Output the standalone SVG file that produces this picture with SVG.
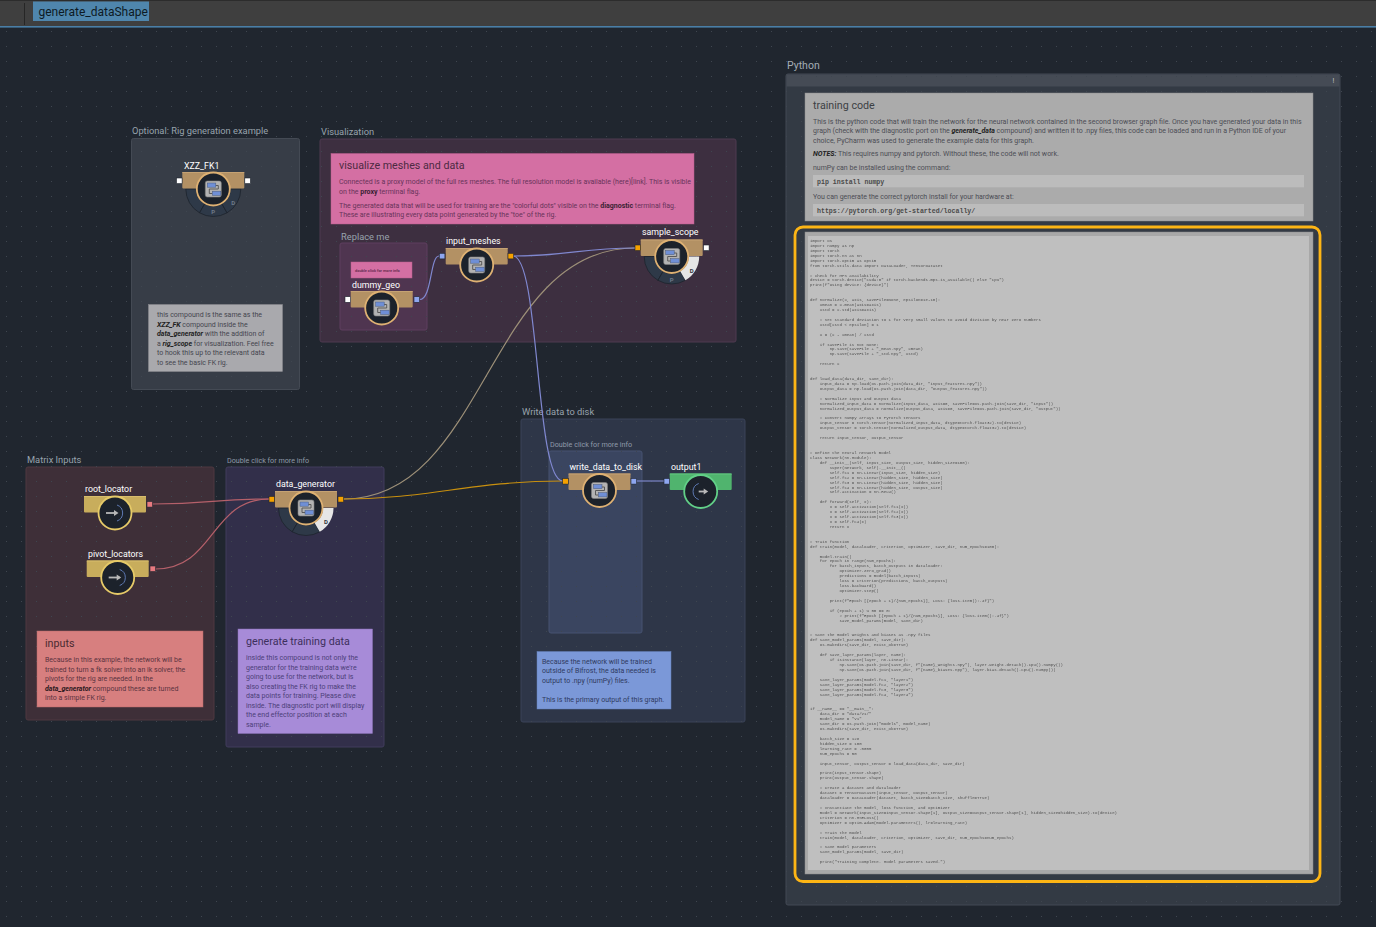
<svg xmlns="http://www.w3.org/2000/svg" width="1376" height="927" viewBox="0 0 1376 927">
<style>
text{font-family:Roboto,"Liberation Sans",sans-serif}
.box{stroke-width:1}
.gt{font-size:9.300px;fill:#98a3ad}
.gs{font-size:7.200px;fill:#8f9aa8}
.lbl{font-size:8.800px;fill:#fff}
.nt{font-size:10.700px}
.n7{font-size:7px}
.port{stroke:#20262f;stroke-width:.6}
.wire{fill:none;stroke-width:1.2}
.ring{fill:#2e3948;stroke:#1d232c;stroke-width:.8}
.rl{font-size:6px;font-weight:700;text-anchor:middle;fill:#6f7a88}
.code text{font-family:"Liberation Mono",monospace;font-size:4.100px;fill:#505050;white-space:pre}
.cb{font-family:"Liberation Mono",monospace;font-size:6.600px;font-weight:700;fill:#4a4a4a}
</style>
<defs>
<filter id="soft" x="0" y="0" width="100%" height="100%"><feGaussianBlur stdDeviation=".22"/></filter>
<pattern id="dots" x="6" y="1" width="15" height="15" patternUnits="userSpaceOnUse"><rect width="1" height="1" fill="#3f4650"/></pattern>
<g id="cicon">
<rect x="-8" y="-8" width="16" height="16" rx="2" fill="#b3b3b3" stroke="#7f7f7f" stroke-width=".6"/>
<path d="M2,-3.500H5V0H-4V4.500H-1" fill="none" stroke="#5a5a5a" stroke-width="1"/>
<rect x="-6" y="-6" width="8.500" height="4.200" fill="#6f8fd6" stroke="#4a5a7a" stroke-width=".5"/>
<rect x="-1" y="2.200" width="8.500" height="4.200" fill="#6f8fd6" stroke="#4a5a7a" stroke-width=".5"/>
</g>
<g id="cnode">
<rect x="-31" y="-17" width="62" height="16.500" rx="1" fill="#b39164"/>
<rect x="-31" y="-17" width="62" height="1" fill="#c5a273"/>
<circle r="16.500" fill="#1c222b" stroke="#deb173" stroke-width="1.800"/>
<use href="#cicon"/>
</g>
<g id="inode">
<rect x="-31" y="-17" width="62" height="16.500" rx="1" fill="#c8ad5c"/>
<rect x="-31" y="-17" width="62" height="1" fill="#d8bd6c"/>
<circle r="16.500" fill="#1c222b" stroke="#e6ca68" stroke-width="1.800"/>
<path d="M2,-8A8.500,8.500 0 0 1 2,8" fill="none" stroke="#6f8fd6" stroke-width=".8"/>
<path d="M-9,0H2" fill="none" stroke="#b8b8b8" stroke-width="1.800"/>
<path d="M-1,-3L3.500,0L-1,3Z" fill="#b8b8b8"/>
</g>
<g id="onode">
<rect x="-31" y="-18" width="62" height="16.500" rx="1" fill="#50b46e"/>
<rect x="-31" y="-18" width="62" height="1" fill="#62c680"/>
<circle r="16.500" fill="#1c222b" stroke="#62d088" stroke-width="1.800"/>
<path d="M-2,-8A8.500,8.500 0 0 0 -2,8" fill="none" stroke="#6f8fd6" stroke-width=".8"/>
<path d="M-2,0H5" fill="none" stroke="#b8b8b8" stroke-width="1.800"/>
<path d="M3,-3L7.500,0L3,3Z" fill="#b8b8b8"/>
</g>
<g id="ringbase">
<path class="ring" d="M-27.500,0A27.500,27.500 0 0 0 -13.750,23.800L-8.500,14.700A17,17 0 0 1 -17,0Z"/>
<path class="ring" d="M-13.750,23.800A27.500,27.500 0 0 0 13.750,23.800L8.500,14.700A17,17 0 0 1 -8.500,14.700Z"/>
</g>
<g id="ringd"><path class="ring" d="M27.500,0A27.500,27.500 0 0 1 13.750,23.800L8.500,14.700A17,17 0 0 0 17,0Z"/><text class="rl" x="20" y="16">D</text></g>
<g id="ringdon"><path d="M27.500,0A27.500,27.500 0 0 1 13.750,23.800L8.500,14.700A17,17 0 0 0 17,0Z" fill="#e6e6e6"/><text class="rl" x="20" y="16" style="fill:#30343a">D</text></g>
</defs>

<rect width="1376" height="927" fill="#20262f"/>
<g id="topbar">
<rect width="1376" height="26" fill="#3f3f3f"/>
<rect width="1376" height="1" fill="#2c2c2c"/>
<rect y="26" width="1376" height="1.600" fill="#4a7ea6"/>
<rect x="24" y="3" width="1" height="22" fill="#262626"/>
<rect x="33" y="1.500" width="116" height="19.500" fill="#4f86ad"/>
<text x="38.500" y="16" font-size="12" fill="#0d1a24">generate_dataShape</text>
</g>

<g id="group-optional"><rect class="box" x="131.500" y="138.500" width="168" height="251" rx="2" fill="#373d47" stroke="#444a54"/><text class="gt" x="132" y="134">Optional:  Rig generation example</text></g>
<g id="group-visualization"><rect class="box" x="320" y="139" width="416" height="203" rx="2" fill="#3d2f40" stroke="#4e3a50"/><text class="gt" x="321" y="135">Visualization</text></g>
<g id="group-replace"><rect class="box" x="340" y="243" width="87" height="87" rx="2" fill="#4f3550" stroke="#5f3f5f"/><text class="gt" x="341" y="240">Replace me</text></g>
<g id="group-matrix"><rect class="box" x="26" y="467" width="188" height="253" rx="2" fill="#3e2f38" stroke="#4e3840"/><text class="gt" x="27" y="463">Matrix Inputs</text></g>
<g id="group-generator"><rect class="box" x="226" y="467" width="158" height="280" rx="2" fill="#322f4a" stroke="#403c5c"/><text class="gs" x="227" y="463">Double click for more info</text></g>
<g id="group-write"><rect class="box" x="521" y="419" width="224" height="303" rx="2" fill="#2e3648" stroke="#3a4358"/><text class="gt" x="522" y="415">Write data to disk</text></g>
<g id="group-write-inner"><rect class="box" x="549" y="451" width="93" height="182" rx="2" fill="#3a4560" stroke="#465270"/><text class="gs" x="550" y="447">Double click for more info</text></g>
<g id="group-python"><rect class="box" x="786" y="74" width="554" height="831" rx="2" fill="#333a44" stroke="#424954"/><rect x="786.500" y="74.500" width="553" height="12" fill="#454b55"/><text x="787" y="69" font-size="10.500" fill="#a4adb5">Python</text><text x="1332.500" y="83" font-size="7" fill="#c8c8c8">!</text></g>

<rect width="1376" height="899" y="28" fill="url(#dots)"/>

<g id="connectors">
<path class="wire" stroke="#b5606a" d="M152.700,504C210,504 215,499 269,499"/>
<path class="wire" stroke="#b5606a" d="M155.500,569C215,569 210,499 269,499"/>
<path class="wire" stroke="#9d9078" d="M343.500,499C487,499 487,248 635,248"/>
<path class="wire" stroke="#c8900f" d="M343.500,499C430,499 470,481 562.700,481"/>
<path class="wire" stroke="#8088d0" d="M419.700,299.500C432,299.500 430,256 439,256"/>
<path class="wire" stroke="#8088d0" d="M513,256C570,256 580,248 635,248"/>
<path class="wire" stroke="#8088d0" d="M513,256C540,256 535,481 562.700,481"/>
<path class="wire" stroke="#7c86c8" d="M636.500,481H664"/>
</g>

<g id="note-optional"><rect x="148.500" y="304.500" width="134" height="67" fill="#a9a9ad" stroke="#8c8c90" stroke-width=".5"/>
<g class="n7" fill="#45464f">
<text x="157" y="317">this compound is the same as the</text>
<text x="157" y="326.700"><tspan font-weight="700" font-style="italic" fill="#222">XZZ_FK</tspan> compound inside the</text>
<text x="157" y="336.200"><tspan font-weight="700" font-style="italic" fill="#222">data_generator</tspan> with the addition of</text>
<text x="157" y="345.800">a <tspan font-weight="700" font-style="italic" fill="#222">rig_scope</tspan> for visualization. Feel free</text>
<text x="157" y="355.300">to hook this up to the relevant data</text>
<text x="157" y="365">to see the basic FK rig.</text>
</g></g>
<g id="note-visualize"><rect x="331" y="153.500" width="363" height="70.500" fill="#d46fa3" stroke="#b85f8c" stroke-width=".5"/>
<text class="nt" x="339" y="169" fill="#4d2a42">visualize meshes and data</text>
<g class="n7" fill="#68345a">
<text x="339" y="183.700">Connected is a proxy model of the full res meshes. The full resolution model is available (here)[link]. This is visible</text>
<text x="339" y="193.700">on the <tspan font-weight="700" fill="#3a1f33">proxy</tspan> terminal flag.</text>
<text x="339" y="207.700">The generated data that will be used for training are the "colorful dots" visible on the <tspan font-weight="700" fill="#3a1f33">diagnostic</tspan> terminal flag.</text>
<text x="339" y="217">These are illustrating every data point generated by the "toe" of the rig.</text>
</g></g>
<g id="note-dummy"><rect x="351" y="262" width="61" height="16" fill="#d46fa3" stroke="#b85f8c" stroke-width=".5"/><text x="355" y="271.500" font-size="3.900" fill="#6b2f55" font-weight="700">double click for more info</text></g>
<g id="note-inputs"><rect x="37" y="631" width="166" height="76" fill="#d77f7f" stroke="#b96a6a" stroke-width=".5"/>
<text class="nt" x="45" y="647" fill="#4a2a30">inputs</text>
<g class="n7" fill="#5a3340">
<text x="45" y="662">Because in this example, the network will be</text>
<text x="45" y="671.500">trained to turn a fk solver into an ik solver, the</text>
<text x="45" y="681">pivots for the rig are needed. In the</text>
<text x="45" y="690.700"><tspan font-weight="700" font-style="italic" fill="#2a1820">data_generator</tspan> compound these are turned</text>
<text x="45" y="700">into a simple FK rig.</text>
</g></g>
<g id="note-generate"><rect x="238" y="629" width="134.500" height="104.500" fill="#a78bd8" stroke="#8a72b8" stroke-width=".5"/>
<text class="nt" x="246" y="645" fill="#3d2f5c">generate training data</text>
<g class="n7" fill="#4d3f78">
<text x="246" y="660">inside this compound is not only the</text>
<text x="246" y="669.600">generator for the training data we're</text>
<text x="246" y="679">going to use for the network, but is</text>
<text x="246" y="688.600">also creating the FK rig to make the</text>
<text x="246" y="698">data points for training. Please dive</text>
<text x="246" y="707.500">inside. The diagnostic port will display</text>
<text x="246" y="717">the end effector position at each</text>
<text x="246" y="726.500">sample.</text>
</g></g>
<g id="note-write"><rect x="537" y="651.500" width="134" height="57.500" fill="#7b98d8" stroke="#6580b8" stroke-width=".5"/>
<g class="n7" fill="#2f3a60">
<text x="542" y="663.700">Because the network will be trained</text>
<text x="542" y="673.300">outside of Bifrost, the data needed is</text>
<text x="542" y="683">output to .npy (numPy) files.</text>
<text x="542" y="702.300">This is the primary output of this graph.</text>
</g></g>
<g id="note-training"><rect x="805" y="93" width="508" height="128" fill="#ababab" stroke="#8d8d8d" stroke-width=".5"/>
<text class="nt" x="813" y="109" fill="#3c3f44">training code</text>
<g class="n7" fill="#4b4d55">
<text x="813" y="124">This is the python code that will train the network for the neural network contained in the second browser graph file. Once you have generated your data in this</text>
<text x="813" y="133">graph (check with the diagnostic port on the <tspan font-weight="700" font-style="italic" fill="#222">generate_data</tspan> compound) and written it to .npy files, this code can be loaded and run in a Python IDE of your</text>
<text x="813" y="142.500">choice, PyCharm was used to generate the example data for this graph.</text>
<text x="813" y="156"><tspan font-weight="700" font-style="italic" fill="#222">NOTES:</tspan> This requires numpy and pytorch. Without these, the code will not work.</text>
<text x="813" y="170">numPy can be installed using the command:</text>
<text x="813" y="199">You can generate the correct pytorch install for your hardware at:</text>
</g>
<rect x="813" y="175" width="491" height="12.300" fill="#bcbcbc"/>
<text class="cb" x="817" y="183.500">pip install numpy</text>
<rect x="813" y="204" width="491" height="12.300" fill="#bcbcbc"/>
<text class="cb" x="817" y="212.500">https://pytorch.org/get-started/locally/</text>
</g>
<g id="note-code">
<rect x="805" y="232" width="508" height="642" fill="#a8a8a8" stroke="#8a8a8a" stroke-width=".5"/>
<rect x="808" y="236" width="501" height="634" fill="#bfbfbf"/>
<g class="code" xml:space="preserve" filter="url(#soft)">
<text x="810" y="242">import os</text>
<text x="810" y="246.930">import numpy as np</text>
<text x="810" y="251.860">import torch</text>
<text x="810" y="256.790">import torch.nn as nn</text>
<text x="810" y="261.720">import torch.optim as optim</text>
<text x="810" y="266.650">from torch.utils.data import DataLoader, TensorDataset</text>
<text x="810" y="276.510"># Check for MPS availability</text>
<text x="810" y="281.440">device = torch.device("cuda:0" if torch.backends.mps.is_available() else "cpu")</text>
<text x="810" y="286.370">print(f"Using device: {device}")</text>
<text x="810" y="301.160">def normalize(X, axis, saveFile=None, epsilon=1e-10):</text>
<text x="810" y="306.090">    Xmean = X.mean(axis=axis)</text>
<text x="810" y="311.020">    Xstd = X.std(axis=axis)</text>
<text x="810" y="320.880">    # Set standard deviation to 1 for very small values to avoid division by near zero numbers</text>
<text x="810" y="325.810">    Xstd[Xstd &lt; epsilon] = 1</text>
<text x="810" y="335.670">    X = (X - Xmean) / Xstd</text>
<text x="810" y="345.530">    if saveFile is not None:</text>
<text x="810" y="350.460">        np.save(saveFile + "_mean.npy", Xmean)</text>
<text x="810" y="355.390">        np.save(saveFile + "_std.npy", Xstd)</text>
<text x="810" y="365.250">    return X</text>
<text x="810" y="380.040">def load_data(data_dir, save_dir):</text>
<text x="810" y="384.970">    input_data = np.load(os.path.join(data_dir, "input_features.npy"))</text>
<text x="810" y="389.900">    output_data = np.load(os.path.join(data_dir, "output_features.npy"))</text>
<text x="810" y="399.760">    # Normalize input and output data</text>
<text x="810" y="404.690">    normalized_input_data = normalize(input_data, axis=0, saveFile=os.path.join(save_dir, "input"))</text>
<text x="810" y="409.620">    normalized_output_data = normalize(output_data, axis=0, saveFile=os.path.join(save_dir, "output"))</text>
<text x="810" y="419.480">    # Convert numpy arrays to PyTorch tensors</text>
<text x="810" y="424.410">    input_tensor = torch.tensor(normalized_input_data, dtype=torch.float32).to(device)</text>
<text x="810" y="429.340">    output_tensor = torch.tensor(normalized_output_data, dtype=torch.float32).to(device)</text>
<text x="810" y="439.200">    return input_tensor, output_tensor</text>
<text x="810" y="453.990"># Define the neural network model</text>
<text x="810" y="458.920">class Network(nn.Module):</text>
<text x="810" y="463.850">    def __init__(self, input_size, output_size, hidden_size=100):</text>
<text x="810" y="468.780">        super(Network, self).__init__()</text>
<text x="810" y="473.710">        self.fc1 = nn.Linear(input_size, hidden_size)</text>
<text x="810" y="478.640">        self.fc2 = nn.Linear(hidden_size, hidden_size)</text>
<text x="810" y="483.570">        self.fc3 = nn.Linear(hidden_size, hidden_size)</text>
<text x="810" y="488.500">        self.fc4 = nn.Linear(hidden_size, output_size)</text>
<text x="810" y="493.430">        self.activation = nn.ReLU()</text>
<text x="810" y="503.290">    def forward(self, x):</text>
<text x="810" y="508.220">        x = self.activation(self.fc1(x))</text>
<text x="810" y="513.150">        x = self.activation(self.fc2(x))</text>
<text x="810" y="518.080">        x = self.activation(self.fc3(x))</text>
<text x="810" y="523.010">        x = self.fc4(x)</text>
<text x="810" y="527.940">        return x</text>
<text x="810" y="542.730"># Train function</text>
<text x="810" y="547.660">def train(model, dataloader, criterion, optimizer, save_dir, num_epochs=100):</text>
<text x="810" y="557.520">    model.train()</text>
<text x="810" y="562.450">    for epoch in range(num_epochs):</text>
<text x="810" y="567.380">        for batch_inputs, batch_outputs in dataloader:</text>
<text x="810" y="572.310">            optimizer.zero_grad()</text>
<text x="810" y="577.240">            predictions = model(batch_inputs)</text>
<text x="810" y="582.170">            loss = criterion(predictions, batch_outputs)</text>
<text x="810" y="587.100">            loss.backward()</text>
<text x="810" y="592.030">            optimizer.step()</text>
<text x="810" y="601.890">        print(f"Epoch [{epoch + 1}/{num_epochs}], Loss: {loss.item():.4f}")</text>
<text x="810" y="611.750">        if (epoch + 1) % 50 == 0:</text>
<text x="810" y="616.680">            # print(f"Epoch [{epoch + 1}/{num_epochs}], Loss: {loss.item():.4f}")</text>
<text x="810" y="621.610">            save_model_params(model, save_dir)</text>
<text x="810" y="636.400"># Save the model weights and biases as .npy files</text>
<text x="810" y="641.330">def save_model_params(model, save_dir):</text>
<text x="810" y="646.260">    os.makedirs(save_dir, exist_ok=True)</text>
<text x="810" y="656.120">    def save_layer_params(layer, name):</text>
<text x="810" y="661.050">        if isinstance(layer, nn.Linear):</text>
<text x="810" y="665.980">            np.save(os.path.join(save_dir, f"{name}_weights.npy"), layer.weight.detach().cpu().numpy())</text>
<text x="810" y="670.910">            np.save(os.path.join(save_dir, f"{name}_biases.npy"), layer.bias.detach().cpu().numpy())</text>
<text x="810" y="680.770">    save_layer_params(model.fc1, "layer1")</text>
<text x="810" y="685.700">    save_layer_params(model.fc2, "layer2")</text>
<text x="810" y="690.630">    save_layer_params(model.fc3, "layer3")</text>
<text x="810" y="695.560">    save_layer_params(model.fc4, "layer4")</text>
<text x="810" y="710.350">if __name__ == "__main__":</text>
<text x="810" y="715.280">    data_dir = "data/v1/"</text>
<text x="810" y="720.210">    model_name = "v1"</text>
<text x="810" y="725.140">    save_dir = os.path.join("models", model_name)</text>
<text x="810" y="730.070">    os.makedirs(save_dir, exist_ok=True)</text>
<text x="810" y="739.930">    batch_size = 128</text>
<text x="810" y="744.860">    hidden_size = 100</text>
<text x="810" y="749.790">    learning_rate = .0005</text>
<text x="810" y="754.720">    num_epochs = 50</text>
<text x="810" y="764.580">    input_tensor, output_tensor = load_data(data_dir, save_dir)</text>
<text x="810" y="774.440">    print(input_tensor.shape)</text>
<text x="810" y="779.370">    print(output_tensor.shape)</text>
<text x="810" y="789.230">    # Create a dataset and dataloader</text>
<text x="810" y="794.160">    dataset = TensorDataset(input_tensor, output_tensor)</text>
<text x="810" y="799.090">    dataloader = DataLoader(dataset, batch_size=batch_size, shuffle=True)</text>
<text x="810" y="808.950">    # Instantiate the model, loss function, and optimizer</text>
<text x="810" y="813.880">    model = Network(input_size=input_tensor.shape[1], output_size=output_tensor.shape[1], hidden_size=hidden_size).to(device)</text>
<text x="810" y="818.810">    criterion = nn.MSELoss()</text>
<text x="810" y="823.740">    optimizer = optim.Adam(model.parameters(), lr=learning_rate)</text>
<text x="810" y="833.600">    # Train the model</text>
<text x="810" y="838.530">    train(model, dataloader, criterion, optimizer, save_dir, num_epochs=num_epochs)</text>
<text x="810" y="848.390">    # Save model parameters</text>
<text x="810" y="853.320">    save_model_params(model, save_dir)</text>
<text x="810" y="863.180">    print("Training complete. Model parameters saved.")</text>
</g></g>
<rect id="selection" x="795" y="227" width="525" height="654.500" rx="8" fill="none" stroke="#fdb515" stroke-width="2.800"/>

<g id="node-XZZ_FK1">
<g transform="translate(213.300,189)"><use href="#ringbase"/><use href="#ringd"/><text class="rl" y="25">P</text><use href="#cnode"/></g>
<text class="lbl" x="184" y="169">XZZ_FK1</text>
<rect class="port" x="176.500" y="178" width="5.600" height="5.600" fill="#fff"/><rect class="port" x="244.800" y="178" width="5.600" height="5.600" fill="#fff"/>
</g>
<g id="node-dummy_geo">
<g transform="translate(381.700,308)"><use href="#cnode"/></g>
<text class="lbl" x="352" y="288">dummy_geo</text>
<rect class="port" x="345" y="296.700" width="5.600" height="5.600" fill="#fff"/><rect class="port" x="414" y="296.700" width="5.600" height="5.600" fill="#8ea6f0"/>
</g>
<g id="node-input_meshes">
<g transform="translate(476.700,265)"><use href="#cnode"/></g>
<text class="lbl" x="446" y="244">input_meshes</text>
<rect class="port" x="439.300" y="253.300" width="5.600" height="5.600" fill="#8ea6f0"/><rect class="port" x="508" y="253.300" width="5.600" height="5.600" fill="#f5a100"/>
</g>
<g id="node-sample_scope">
<g transform="translate(671.700,256.500)"><use href="#ringbase"/><use href="#ringdon"/><text class="rl" y="25">P</text><use href="#cnode"/></g>
<text class="lbl" x="642" y="235">sample_scope</text>
<rect class="port" x="635" y="245" width="5.600" height="5.600" fill="#f5a100"/><rect class="port" x="703.500" y="245" width="5.600" height="5.600" fill="#fff"/>
</g>
<g id="node-root_locator">
<g transform="translate(115,513)"><use href="#inode"/></g>
<text class="lbl" x="85" y="492">root_locator</text>
<rect class="port" x="147" y="501.500" width="5.600" height="5.600" fill="#e87a80"/>
</g>
<g id="node-pivot_locators">
<g transform="translate(117.700,577.500)"><use href="#inode"/></g>
<text class="lbl" x="88" y="557">pivot_locators</text>
<rect class="port" x="150" y="566" width="5.600" height="5.600" fill="#e87a80"/>
</g>
<g id="node-data_generator">
<g transform="translate(306,508)"><use href="#ringbase"/><use href="#ringdon"/><use href="#cnode"/></g>
<text class="lbl" x="276" y="487">data_generator</text>
<rect class="port" x="269" y="496.500" width="5.600" height="5.600" fill="#f5a100"/><rect class="port" x="338" y="496.500" width="5.600" height="5.600" fill="#f5a100"/>
</g>
<g id="node-write_data_to_disk">
<g transform="translate(599.500,490.500)"><use href="#cnode"/></g>
<text class="lbl" x="569.500" y="470">write_data_to_disk</text>
<rect class="port" x="562.700" y="478.500" width="5.600" height="5.600" fill="#f5a100"/><rect class="port" x="631" y="478.500" width="5.600" height="5.600" fill="#8ea6f0"/>
</g>
<g id="node-output1">
<g transform="translate(700.700,491.500)"><use href="#onode"/></g>
<text class="lbl" x="671" y="470">output1</text>
<rect class="port" x="664" y="478.500" width="5.600" height="5.600" fill="#8ea6f0"/>
</g>
</svg>
